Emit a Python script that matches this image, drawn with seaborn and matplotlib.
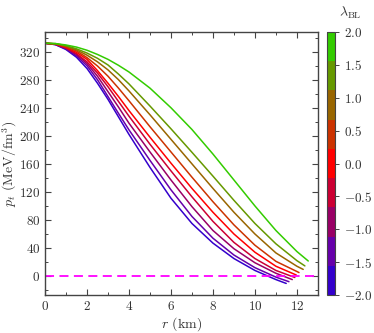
import numpy as np
import pandas as pd
import matplotlib
matplotlib.use("Agg")
import matplotlib.pyplot as plt
import seaborn as sns
from matplotlib.colors import ListedColormap, Normalize
from matplotlib.ticker import MultipleLocator

# --- Data ---
lam_values = [-2.0, -1.5, -1.0, -0.5, 0.0, 0.5, 1.0, 1.5, 2.0]
line_colors = ["#3300cc", "#6600aa", "#990066", "#cc0033", "#ff0000",
               "#cc3300", "#996600", "#669900", "#33cc00"]

# common radius grid (km); each curve stops at its own surface radius
r_grid = [0, 0.5, 1, 1.5, 2, 2.5, 3, 3.5, 4, 5, 6, 7, 8, 9, 10, 11, 12]
r_end = [11.49, 11.62, 11.78, 11.9, 11.97, 12.1, 12.3, 12.38, 12.54]

p_m20 = [332, 330, 323, 312, 296, 275, 252, 227, 202, 155, 111, 75, 47, 25, 8, -5, -10.5]
p_m15 = [332, 330, 324, 314, 300, 280, 256, 232, 208.5, 165, 123, 85, 54, 30, 12, -1.5, -8]
p_m10 = [332, 330.5, 325, 316, 303, 285, 263, 241, 218, 177, 137, 99, 65, 39, 19, 4, -5]
p_m05 = [332, 330.5, 325.5, 317, 305.5, 289.5, 270, 249, 228, 188, 150, 113, 78, 48, 25, 8, -2]
p_p00 = [332, 331, 326, 319, 309, 293, 275, 256, 236, 198, 161, 125, 91, 60, 34, 14, 1.5]
p_p05 = [332, 331, 327, 321, 311.5, 299.5, 285, 268, 250, 213, 177, 141, 106, 73, 44, 21, 6.5, 5]
p_p10 = [332, 331, 328, 322.5, 315, 305.5, 294, 280, 264, 230, 195, 160, 125, 91, 60, 33, 14, 9.5]
p_p15 = [332, 331.5, 328.5, 324, 318, 310.5, 301, 288, 274, 242.5, 210, 176.5, 142.5, 108, 75, 46, 22, 14.5]
p_p20 = [332, 331.5, 329.5, 326.5, 322, 316, 309, 300.5, 291, 268, 240, 209, 174, 137, 100, 65, 35, 21.5]

p_lists = [p_m20, p_m15, p_m10, p_m05, p_p00, p_p05, p_p10, p_p15, p_p20]

rows = []
for lam, rend, ps in zip(lam_values, r_end, p_lists):
    rs = r_grid[:len(ps) - 1] + [rend]
    for r, p in zip(rs, ps):
        rows.append({"r": r, "p": p, "lam": f"{lam:.1f}"})
df = pd.DataFrame(rows)
hue_order = [f"{l:.1f}" for l in lam_values]
palette = dict(zip(hue_order, line_colors))

# --- Style ---
sns.set_theme(style="ticks")
plt.rcParams["font.family"] = ["cmr10", "DejaVu Serif"]
plt.rcParams["mathtext.fontset"] = "cm"
plt.rcParams["axes.formatter.use_mathtext"] = True

fig = plt.figure(figsize=(3.74, 3.33), dpi=100)
ax = fig.add_axes([0.1203, 0.1141, 0.7297, 0.7898])
cax = fig.add_axes([0.8743, 0.1141, 0.0214, 0.7898])

sns.lineplot(data=df, x="r", y="p", hue="lam", hue_order=hue_order,
             palette=palette, sort=False, estimator=None, legend=False,
             lw=1.1, ax=ax)
ax.axhline(0, color="#ff00ff", ls=(0, (5, 3)), lw=1.3)

ax.set_xlim(0, 13)
ax.set_ylim(-27, 348)
ax.xaxis.set_major_locator(MultipleLocator(2))
ax.xaxis.set_minor_locator(MultipleLocator(1))
ax.yaxis.set_major_locator(MultipleLocator(40))
ax.yaxis.set_minor_locator(MultipleLocator(20))
ax.tick_params(which="both", direction="in", top=True, right=True,
               colors="#444444", labelcolor="#333333", labelsize=9.5)
ax.tick_params(which="major", length=4, width=0.8)
ax.tick_params(which="minor", length=2.2, width=0.7)
for s in ax.spines.values():
    s.set_color("#444444")
    s.set_linewidth(1.0)

ax.set_xlabel(r"$r$ (km)", fontsize=10, color="#333333")
ax.set_ylabel(r"$p_t$ (MeV/fm$^3$)", fontsize=10, color="#333333")
ax.xaxis.set_label_coords(0.5, -0.075)
ax.yaxis.set_label_coords(-0.095, 0.5)

cmap = ListedColormap(line_colors)
sm = plt.cm.ScalarMappable(cmap=cmap, norm=Normalize(-2, 2))
cb_ticks = np.arange(-2, 2.01, 0.5)
cb = fig.colorbar(sm, cax=cax, ticks=cb_ticks)
cb.ax.tick_params(labelsize=9.5, length=3, width=0.7, colors="#444444",
                  labelcolor="#333333")
cb.ax.set_yticklabels([f"${v:.1f}$" for v in cb_ticks])
cb.outline.set_edgecolor("#444444")
cb.outline.set_linewidth(0.8)
fig.text(0.936, 0.961, r"$\lambda_{\rm BL}$", fontsize=10, color="#333333",
         ha="center", va="center")

fig.savefig("out.png", dpi=100)
